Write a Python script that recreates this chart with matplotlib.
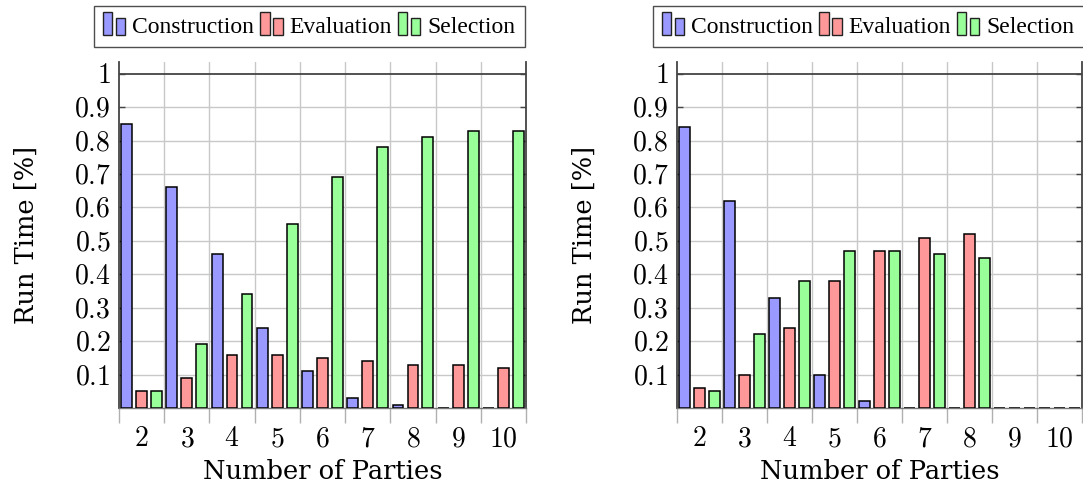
import numpy as np
import matplotlib
matplotlib.use("Agg")
import matplotlib.pyplot as plt
from matplotlib.patches import Rectangle
from matplotlib.legend_handler import HandlerBase

plt.rcParams['mathtext.fontset'] = 'cm'
plt.rcParams['font.family'] = ['Liberation Serif', 'DejaVu Serif']

parties = [2, 3, 4, 5, 6, 7, 8, 9, 10]
series = ['Construction', 'Evaluation', 'Selection']

# run time shares, left panel
left_construction = [0.85, 0.66, 0.46, 0.24, 0.11, 0.03, 0.01, 0.0, 0.0]
left_evaluation = [0.05, 0.09, 0.16, 0.16, 0.15, 0.14, 0.13, 0.13, 0.12]
left_selection = [0.05, 0.19, 0.34, 0.55, 0.69, 0.78, 0.81, 0.83, 0.83]

# run time shares, right panel
right_construction = [0.84, 0.62, 0.33, 0.10, 0.02, 0.0, 0.0, 0.0, 0.0]
right_evaluation = [0.06, 0.10, 0.24, 0.38, 0.47, 0.51, 0.52, 0.0, 0.0]
right_selection = [0.05, 0.22, 0.38, 0.47, 0.47, 0.46, 0.45, 0.0, 0.0]

colors = ['#9999ff', '#ff9999', '#99ff99']
yticks = [0.1, 0.2, 0.3, 0.4, 0.5, 0.6, 0.7, 0.8, 0.9, 1]

W, H = 1083, 487


class TwoBarHandler(HandlerBase):
    # legend image: two little bars, the left one taller
    def create_artists(self, legend, orig, xd, yd, w, h, fontsize, trans):
        bw = w * 0.42
        y0 = yd - 0.2 * h
        r1 = Rectangle((xd, y0), bw, h * 1.2, facecolor=orig.get_facecolor(),
                       edgecolor='#222222', lw=1.0, transform=trans)
        r2 = Rectangle((xd + w - bw, y0), bw, h * 0.9, facecolor=orig.get_facecolor(),
                       edgecolor='#222222', lw=1.0, transform=trans)
        return [r1, r2]


def panel(ax, data, leg_x):
    x = np.array(parties, dtype=float)
    offs = [-0.33, 0.0, 0.33]
    handles = []
    for vals, off, col, name in zip(data, offs, colors, series):
        b = ax.bar(x + off, vals, width=0.24, color=col, edgecolor='black',
                   linewidth=1.1, label=name, zorder=3)
        handles.append(b.patches[0])
    ax.set_xlim(1.5, 10.5)
    ax.set_ylim(0, 1.035)

    ax.set_yticks(yticks)
    ax.set_yticklabels(['$%g$' % v for v in yticks], fontsize=20)
    ax.tick_params(axis='y', direction='in', length=4, width=1, color='#444444',
                   right=True, pad=6)
    for v in yticks[:-1]:
        ax.axhline(v, color='#c8c8c8', lw=1, zorder=1)
    ax.axhline(1, color='#444444', lw=1.3, zorder=2)

    ax.set_xticks(parties)
    ax.set_xticklabels(['$%d$' % p for p in parties], fontsize=20)
    ax.tick_params(axis='x', which='major', length=0, pad=14)
    bounds = np.arange(1.5, 11.0, 1.0)
    ax.set_xticks(bounds, minor=True)
    ax.tick_params(axis='x', which='minor', direction='out', length=11,
                   width=1, color='#b0b0b0')
    for b in bounds[1:-1]:
        ax.axvline(b, color='#c8c8c8', lw=1, zorder=1)

    ax.spines['top'].set_visible(False)
    for s in ['left', 'right']:
        ax.spines[s].set_color('#444444')
        ax.spines[s].set_linewidth(1.3)
    ax.spines['bottom'].set_color('#777777')
    ax.spines['bottom'].set_linewidth(1)

    ax.set_xlabel('Number of Parties', fontsize=18.5, family='DejaVu Serif', labelpad=5)
    ax.set_ylabel('Run Time [%]', fontsize=18.5, family='DejaVu Serif', labelpad=25)

    leg = ax.legend(handles, series, loc='lower left',
                    bbox_to_anchor=(leg_x / W, (H - 47) / H),
                    bbox_transform=fig.transFigure,
                    ncol=3, fontsize=17, frameon=True, fancybox=False,
                    handler_map={Rectangle: TwoBarHandler()},
                    handlelength=0.95, handleheight=0.9, handletextpad=0.3,
                    columnspacing=0.25, borderpad=0.38, borderaxespad=0)
    leg.get_frame().set_edgecolor('#222222')
    leg.get_frame().set_linewidth(1.0)


fig = plt.figure(figsize=(W / 100, H / 100), dpi=100)
ax1 = fig.add_axes([119 / W, 79 / H, 407 / W, 346 / H])
ax2 = fig.add_axes([677 / W, 79 / H, 405 / W, 346 / H])

panel(ax1, [left_construction, left_evaluation, left_selection], 94)
panel(ax2, [right_construction, right_evaluation, right_selection], 653)

fig.savefig('out.png', dpi=100)
